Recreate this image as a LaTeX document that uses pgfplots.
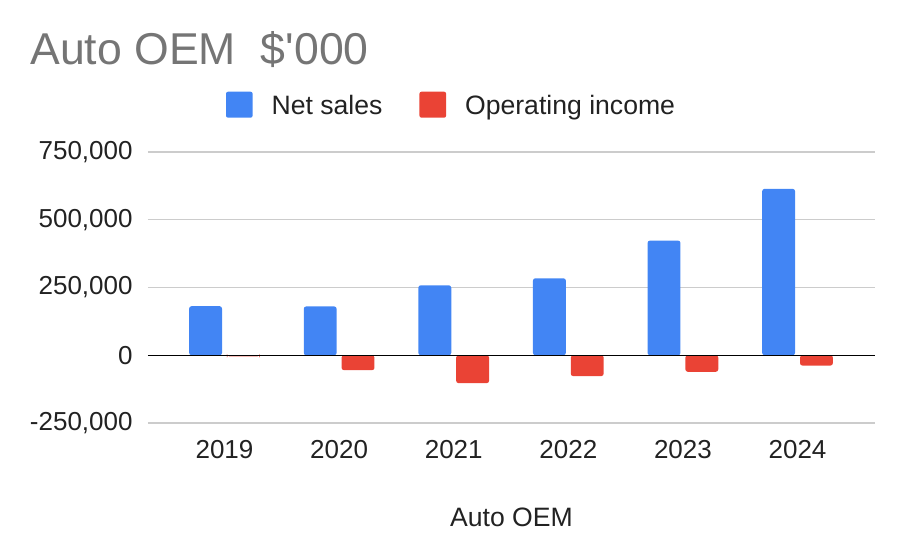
\documentclass[border=0pt]{standalone}
\usepackage{fontspec}
\setmainfont{Liberation Sans}
\usepackage{pgfplots}
\pgfplotsset{compat=1.18}
\definecolor{gblue}{HTML}{4285F4}
\definecolor{gred}{HTML}{EA4335}
\definecolor{ttl}{HTML}{757575}
\definecolor{txt}{HTML}{222222}
\definecolor{grd}{HTML}{CCCCCC}
\begin{document}
\begin{tikzpicture}
\useasboundingbox (0,0) rectangle (452pt,280pt);
\node[anchor=base west, inner sep=0pt, text=ttl, font=\fontsize{22.3}{26}\selectfont] at (15pt,247.5pt) {Auto OEM\ \ \$\textquotesingle 000};
\begin{axis}[
  at={(74pt,68.5pt)}, anchor=south west,
  scale only axis, width=363.5pt, height=135.5pt,
  ymin=-250000, ymax=750000,
  xmin=-0.6675, xmax=5.676,
  axis line style={draw=none},
  major tick length=0pt,
  scaled y ticks=false,
  ytick={-250000,0,250000,500000,750000},
  yticklabels={{-250,000},{0},{250,000},{500,000},{750,000}},
  ymajorgrids, grid style={grd, line width=0.55pt},
  xtick={0,1,2,3,4,5},
  xticklabels={2019,2020,2021,2022,2023,2024},
  tick label style={font=\fontsize{13}{15}\selectfont, text=txt},
  yticklabel style={anchor=east, inner sep=0pt, xshift=-7.5pt},
  xticklabel style={anchor=base, inner sep=0pt, yshift=-17.65pt},
  xlabel={Auto OEM},
  xlabel style={at={(axis description cs:0.5,0)}, anchor=base, inner sep=0pt, yshift=-51.85pt, font=\fontsize{13.3}{15}\selectfont, text=txt},
  legend columns=2,
  legend style={at={(0.1073,1.1745)}, anchor=west, draw=none, fill=none, inner sep=0pt, outer sep=0pt,
    nodes={inner sep=0pt, text depth=0pt, font=\fontsize{13.3}{15}\selectfont, text=txt},
    /tikz/every odd column/.append style={column sep=9.5pt},
    /tikz/every even column/.append style={column sep=18.5pt}},
]
\addplot[ybar, bar width=0.287, bar shift=-0.165, fill=gblue, draw=none, rounded corners=1.2pt,
  legend image code/.code={\fill[gblue, rounded corners=1pt] (0pt,-6.5pt) rectangle (13.3pt,6.5pt);}]
  coordinates {(0,181000) (1,180000) (2,258000) (3,284000) (4,423000) (5,614000)};
\addlegendentry{Net sales}
\addplot[ybar, bar width=0.287, bar shift=0.165, fill=gred, draw=none, rounded corners=1.2pt,
  legend image code/.code={\fill[gred, rounded corners=1pt] (0pt,-6.5pt) rectangle (13.3pt,6.5pt);}]
  coordinates {(0,-4000) (1,-55000) (2,-103000) (3,-77000) (4,-61000) (5,-38000)};
\addlegendentry{Operating income}
\draw[black, line width=0.6pt] ({rel axis cs:0,0}|-{axis cs:0,0}) -- ({rel axis cs:1,0}|-{axis cs:0,0});
\end{axis}
\end{tikzpicture}
\end{document}
